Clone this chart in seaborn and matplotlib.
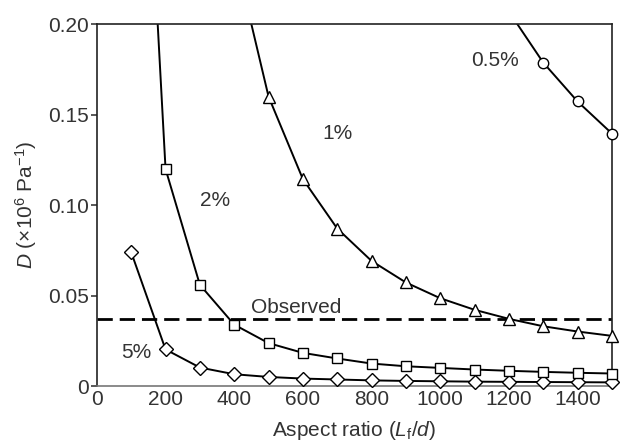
import matplotlib
matplotlib.use("Agg")
import matplotlib.pyplot as plt
import seaborn as sns
import pandas as pd
import numpy as np

# ---- data ----
x_vals = [100, 200, 300, 400, 500, 600, 700, 800, 900, 1000, 1100, 1200, 1300, 1400, 1500]
d_5 = [0.074, 0.0203, 0.0103, 0.0066, 0.0051, 0.0042, 0.0037, 0.0032, 0.0029, 0.0027, 0.0025, 0.0024, 0.0023, 0.0022, 0.0021]
d_2 = [0.47, 0.120, 0.056, 0.034, 0.0238, 0.0184, 0.0153, 0.0125, 0.0110, 0.0101, 0.0092, 0.0085, 0.0079, 0.0074, 0.0070]
x_1 = [400, 500, 600, 700, 800, 900, 1000, 1100, 1200, 1300, 1400, 1500]
d_1 = [0.240, 0.160, 0.1144, 0.0871, 0.0692, 0.0573, 0.0486, 0.0422, 0.0372, 0.0331, 0.0302, 0.0278]
x_05 = [1200, 1300, 1400, 1500]
d_05 = [0.207, 0.1788, 0.1573, 0.1396]
observed = 0.037
series_labels = ["5%", "2%", "1%", "0.5%"]
label_pos_x = [116, 344, 701, 1161]
label_pos_y = [0.0184, 0.1028, 0.1396, 0.1797]
x_ticks = [0, 200, 400, 600, 800, 1000, 1200, 1400]
y_ticks = [0, 0.05, 0.10, 0.15, 0.20]
y_ticklabels = ["0", "0.05", "0.10", "0.15", "0.20"]

sns.set_theme(style="white")
plt.rcParams["font.family"] = ["Liberation Sans", "DejaVu Sans"]
plt.rcParams["mathtext.fontset"] = "custom"
plt.rcParams["mathtext.rm"] = "Liberation Sans"
plt.rcParams["mathtext.it"] = "Liberation Sans:italic"

fig = plt.figure(figsize=(6.25, 4.48), dpi=100)
ax = fig.add_axes([0.155, 0.138, 0.824, 0.808])

txt_color = "#333333"
fs = 15
ymax = 0.20
series = [
    (x_vals, d_5, "D", 7.2),
    (x_vals, d_2, "s", 7),
    (x_1, d_1, "^", 8),
    (x_05, d_05, "o", 7.5),
]
for xs, ys, mk, ms in series:
    df = pd.DataFrame({"x": xs, "y": ys})
    sns.lineplot(data=df, x="x", y="y", ax=ax, color="black", lw=1.4)
    dfm = df[df["y"] <= ymax]
    sns.lineplot(data=dfm, x="x", y="y", ax=ax, color="black", lw=0,
                 marker=mk, markersize=ms, markerfacecolor="white",
                 markeredgecolor="black", markeredgewidth=1.0, clip_on=False,
                 zorder=5)

ax.axhline(observed, color="black", lw=2, ls=(0, (5.5, 2.5)))
ax.text(448, observed + 0.0012, "Observed", fontsize=fs, color=txt_color,
        ha="left", va="bottom")

for lab, lx, ly in zip(series_labels, label_pos_x, label_pos_y):
    ax.text(lx, ly, lab, fontsize=fs, color=txt_color, ha="center", va="center")

ax.set_xlim(0, 1500)
ax.set_ylim(0, ymax)
ax.set_xticks(x_ticks)
ax.set_yticks(y_ticks)
ax.set_yticklabels(y_ticklabels)
ax.tick_params(axis="x", direction="in", length=4, color="#777777",
               labelsize=fs, labelcolor=txt_color, pad=3)
ax.tick_params(axis="y", direction="out", length=4, color="#444444",
               labelsize=fs, labelcolor=txt_color, pad=2, left=True)
ax.set_xlabel(r"Aspect ratio ($L_\mathrm{f}$/$d$)", fontsize=fs, color=txt_color, labelpad=7)
ax.set_ylabel(r"$D$ (×10$^6$ Pa$^{-1}$)", fontsize=fs, color=txt_color, labelpad=6)

for side in ["top", "right", "left"]:
    ax.spines[side].set_color("#222222")
    ax.spines[side].set_linewidth(1.2)
ax.spines["bottom"].set_color("#777777")
ax.spines["bottom"].set_linewidth(1.2)
ax.grid(False)

fig.savefig("out.png", dpi=100)
